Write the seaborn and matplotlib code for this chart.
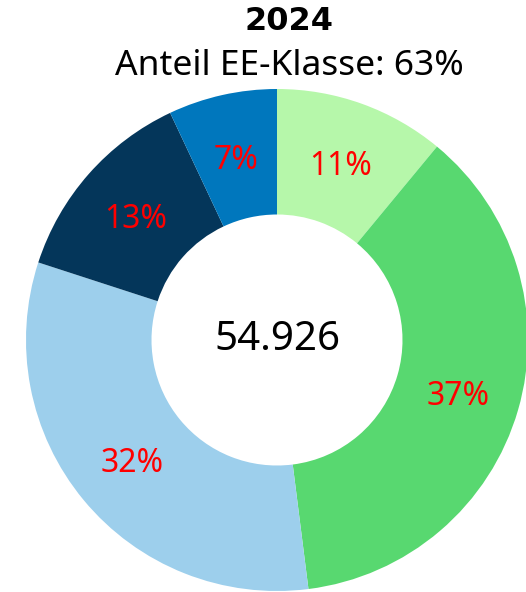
import matplotlib
matplotlib.use("Agg")
import matplotlib.pyplot as plt
import numpy as np
import seaborn as sns

# Data
categories = ["A", "B", "C", "D", "E"]
shares = [11, 37, 32, 13, 7]
labels = ["11%", "37%", "32%", "13%", "7%"]
colors = ["#b6f7aa", "#58d870", "#9dcfec", "#04365a", "#0077bd"]
title = "2024"
subtitle = "Anteil EE-Klasse: 63%"
total = "54.926"

sns.set_theme(style="white")
plt.rcParams['font.family'] = ['Noto Sans', 'DejaVu Sans']
plt.rcParams['text.color'] = 'black'

fig = plt.figure(figsize=(5.26, 5.92), dpi=100)
# pie centre ~ (277, 340) px, radius ~251 px
ax = fig.add_axes([(277 - 251) / 526, (592 - 340 - 251) / 592, 502 / 526, 502 / 592])

wedges, _ = ax.pie(shares, colors=colors, startangle=90, counterclock=False,
                   radius=1, wedgeprops=dict(width=0.5, linewidth=0))
ax.set_xlim(-1, 1)
ax.set_ylim(-1, 1)
ax.set_aspect("equal")
ax.axis("off")

cum = np.cumsum([0] + shares)
for i, lab in enumerate(labels):
    mid = 90 - 3.6 * (cum[i] + cum[i + 1]) / 2
    r = 0.75
    ax.text(r * np.cos(np.radians(mid)), r * np.sin(np.radians(mid)) - 0.015, lab,
            ha="center", va="center", color="#ff0000", fontsize=23)

ax.text(0, 0, total, ha="center", va="center", fontsize=29, color="black")

fig.text(289 / 526, 1 - 22 / 592, title, ha="center", va="center",
         fontsize=23, fontweight="bold", color="black",
         family=['DejaVu Sans'])
fig.text(289 / 526, 1 - 66 / 592, subtitle, ha="center", va="center",
         fontsize=25.5, color="black")

fig.savefig("out.png", dpi=100)
